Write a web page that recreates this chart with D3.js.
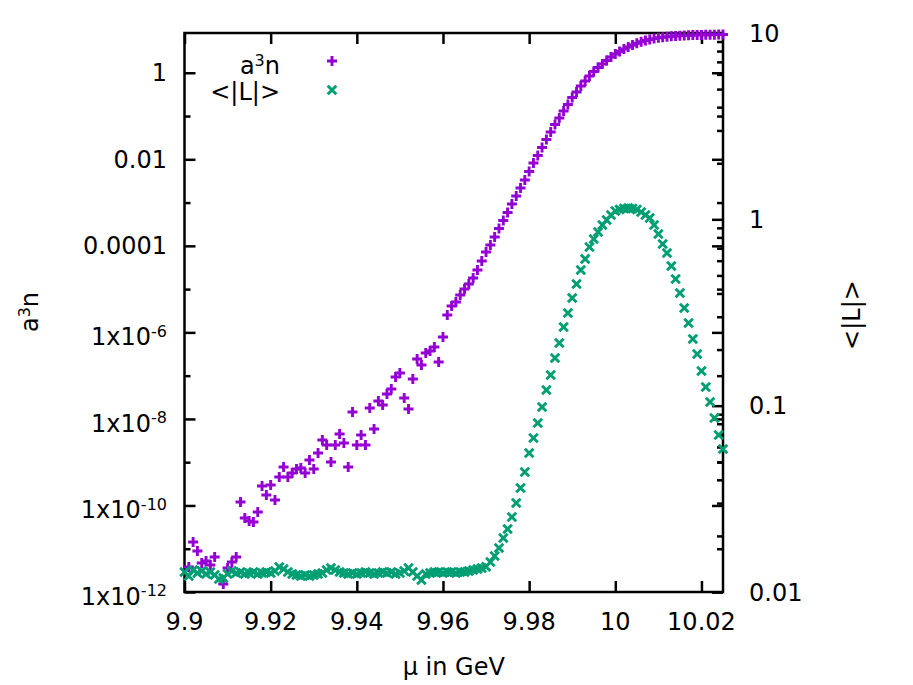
<!DOCTYPE html>
<html>
<head>
<meta charset="utf-8">
<script src="https://cdn.jsdelivr.net/npm/d3@7"></script>
<style>
body { margin: 0; background: #fff; }
svg text { font-family: "DejaVu Sans", sans-serif; font-size: 24px; fill: #000; }
</style>
</head>
<body>
<div id="chart"></div>
<script>
const width = 913;
const height = 685;

// chemical potential mu in GeV
const mu = [
  9.900, 9.901, 9.902, 9.903, 9.904, 9.905, 9.906, 9.907, 9.908, 9.909,
  9.910, 9.911, 9.912, 9.913, 9.914, 9.915, 9.916, 9.917, 9.918, 9.919,
  9.920, 9.921, 9.922, 9.923, 9.924, 9.925, 9.926, 9.927, 9.928, 9.929,
  9.930, 9.931, 9.932, 9.933, 9.934, 9.935, 9.936, 9.937, 9.938, 9.939,
  9.940, 9.941, 9.942, 9.943, 9.944, 9.945, 9.946, 9.947, 9.948, 9.949,
  9.950, 9.951, 9.952, 9.953, 9.954, 9.955, 9.956, 9.957, 9.958, 9.959,
  9.960, 9.961, 9.962, 9.963, 9.964, 9.965, 9.966, 9.967, 9.968, 9.969,
  9.970, 9.971, 9.972, 9.973, 9.974, 9.975, 9.976, 9.977, 9.978, 9.979,
  9.980, 9.981, 9.982, 9.983, 9.984, 9.985, 9.986, 9.987, 9.988, 9.989,
  9.990, 9.991, 9.992, 9.993, 9.994, 9.995, 9.996, 9.997, 9.998, 9.999,
  10.000, 10.001, 10.002, 10.003, 10.004, 10.005, 10.006, 10.007, 10.008, 10.009,
  10.010, 10.011, 10.012, 10.013, 10.014, 10.015, 10.016, 10.017, 10.018, 10.019,
  10.020, 10.021, 10.022, 10.023, 10.024, 10.025
];

// a^3 n (left axis), null = not shown on log scale
const a3n = [
  null, 3.78e-12, 1.43e-11, 8.86e-12, 4.68e-12, 5.20e-12, 4.21e-12, 6.44e-12, null, 1.53e-12,
  3.59e-12, 4.93e-12, 6.44e-12, 1.20e-10, 5.13e-11, 4.37e-11, 4.15e-11, 7.06e-11, 2.82e-10, 1.74e-10,
  2.97e-10, 1.34e-10, 4.55e-10, 7.74e-10, 4.55e-10, 5.63e-10, 6.96e-10, 7.34e-10, 5.63e-10, 1.12e-9,
  6.96e-10, 1.63e-9, 3.26e-9, 2.50e-9, 1.01e-9, 2.50e-9, 4.48e-9, 2.78e-9, 7.74e-10, 1.44e-8,
  2.50e-9, 4.25e-9, 2.50e-9, 1.79e-8, 5.85e-9, 2.60e-8, 2.10e-8, 3.77e-8, 4.91e-8, 9.31e-8,
  1.15e-7, 3.04e-8, 1.70e-8, 8.37e-8, 2.43e-7, 1.76e-7, 3.34e-7, 3.71e-7, 4.59e-7, 2.07e-7,
  7.82e-7, 2.52e-6, 4.07e-6, 5.04e-6, 7.31e-6, 1.01e-5, 1.31e-5, 1.81e-5, 2.77e-5, 4.46e-5,
  7.20e-5, 1.05e-4, 1.60e-4, 2.52e-4, 3.85e-4, 5.89e-4, 9.27e-4, 1.42e-3, 2.17e-3, 3.32e-3,
  5.22e-3, 8.21e-3, 1.22e-2, 1.87e-2, 2.87e-2, 4.28e-2, 6.37e-2, 9.01e-2, 0.1307, 0.1847,
  0.2680, 0.3592, 0.4943, 0.6451, 0.8415, 1.069, 1.323, 1.594, 1.920, 2.313,
  2.714, 3.099, 3.541, 3.938, 4.381, 4.797, 5.194, 5.567, 5.871, 6.159,
  6.427, 6.635, 6.814, 6.960, 7.072, 7.187, 7.26, 7.34, 7.42, 7.46,
  7.50, 7.54, 7.57, 7.61, 7.65, 7.65
];

// <|L|> (right axis)
const absL = [
  0.01280, 0.01219, 0.01312, 0.01265, 0.01296, 0.01249, 0.01280, 0.01234, 0.01174, 0.01189,
  0.01249, 0.01296, 0.01265, 0.01280, 0.01249, 0.01265, 0.01280, 0.01249, 0.01265, 0.01280,
  0.01265, 0.01296, 0.01362, 0.01329, 0.01280, 0.01249, 0.01234, 0.01219, 0.01234, 0.01219,
  0.01234, 0.01249, 0.01265, 0.01312, 0.01345, 0.01312, 0.01280, 0.01265, 0.01249, 0.01265,
  0.01249, 0.01265, 0.01280, 0.01265, 0.01249, 0.01265, 0.01280, 0.01265, 0.01280, 0.01249,
  0.01265, 0.01296, 0.01345, 0.01280, 0.01219, 0.01160, 0.01249, 0.01265, 0.01280, 0.01280,
  0.01265, 0.01280, 0.01280, 0.01265, 0.01280, 0.01280, 0.01296, 0.01312, 0.01329, 0.01345,
  0.01367, 0.01449, 0.01560, 0.01722, 0.01949, 0.02178, 0.02526, 0.03004, 0.03615, 0.04406,
  0.05572, 0.06707, 0.08072, 0.09837, 0.1214, 0.1461, 0.1803, 0.2170, 0.2644, 0.3143,
  0.3784, 0.4498, 0.5349, 0.6129, 0.7107, 0.7845, 0.8554, 0.9326, 0.9919, 1.055,
  1.109, 1.129, 1.143, 1.151, 1.143, 1.129, 1.095, 1.055, 1.017, 0.9326,
  0.8344, 0.7375, 0.6597, 0.5619, 0.4784, 0.4024, 0.3344, 0.2778, 0.2280, 0.1894,
  0.1535, 0.1260, 0.1046, 0.08585, 0.06961, 0.05855
];

const xTicks = [9.90, 9.92, 9.94, 9.96, 9.98, 10.00, 10.02];
const xTickLabels = ["9.9", "9.92", "9.94", "9.96", "9.98", "10", "10.02"];
const yTicks = [1, 1e-2, 1e-4, 1e-6, 1e-8, 1e-10, 1e-12];
const yTickLabels = [["1", ""], ["0.01", ""], ["0.0001", ""], ["1x10", "-6"], ["1x10", "-8"], ["1x10", "-10"], ["1x10", "-12"]];
const yMinorTicks = [1e-1, 1e-3, 1e-5, 1e-7, 1e-9, 1e-11];
const y2Ticks = [10, 1, 0.1, 0.01];
const y2TickLabels = ["10", "1", "0.1", "0.01"];

const purple = "#9400d3";
const green = "#009e73";

const plotL = 184.5, plotR = 723, plotT = 33, plotB = 592;

const svg = d3.select("#chart")
    .append("svg")
    .attr("width", width)
    .attr("height", height);

const x = d3.scaleLinear().domain([9.9, 10.025]).range([plotL, plotR]);
const y = d3.scaleLog().domain([1e-12, 8.3]).range([plotB, plotT]);
const y2 = d3.scaleLog().domain([0.01, 10]).range([plotB, plotT]);

// tick marks only, labels are drawn by hand below
function tickAxis(axis, tx, ty, len) {
    svg.append("g")
        .attr("transform", `translate(${tx},${ty})`)
        .call(axis.tickSize(len).tickFormat(""))
        .call(g => g.select(".domain").remove())
        .call(g => g.selectAll("text").remove())
        .call(g => g.selectAll("line").attr("stroke", "#000").attr("stroke-width", 2.5));
}

tickAxis(d3.axisBottom(x).tickValues(xTicks), 0, plotB, -11);
tickAxis(d3.axisTop(x).tickValues(xTicks), 0, plotT, -11);
tickAxis(d3.axisLeft(y).tickValues(yTicks), plotL, 0, -11);
tickAxis(d3.axisLeft(y).tickValues(yMinorTicks), plotL, 0, -6);
tickAxis(d3.axisRight(y).tickValues(yTicks), plotR, 0, -11);
tickAxis(d3.axisRight(y).tickValues(yMinorTicks), plotR, 0, -6);
tickAxis(d3.axisRight(y2).tickValues(y2Ticks), plotR, 0, -11);
tickAxis(d3.axisRight(y2).tickValues(y2.ticks().filter(t => !y2Ticks.some(m => Math.abs(m - t) < 1e-9))), plotR, 0, -6);

// frame
svg.append("rect")
    .attr("x", plotL).attr("y", plotT)
    .attr("width", plotR - plotL).attr("height", plotB - plotT)
    .attr("fill", "none").attr("stroke", "#000").attr("stroke-width", 2.5);

// x tick labels
svg.selectAll(".xlab").data(xTicks).enter().append("text")
    .attr("x", d => x(d)).attr("y", 630)
    .attr("text-anchor", "middle")
    .text((d, i) => xTickLabels[i]);

// left tick labels with superscripts
yTicks.forEach((v, i) => {
    const lab = yTickLabels[i];
    const t = svg.append("text")
        .attr("x", 167)
        .attr("y", y(v) + (lab[1] ? 12.7 : 8.5))
        .attr("text-anchor", "end");
    t.append("tspan").text(lab[0]);
    if (lab[1]) t.append("tspan").attr("dy", -8.3).style("font-size", "16px").text(lab[1]);
});

// right tick labels
svg.selectAll(".y2lab").data(y2Ticks).enter().append("text")
    .attr("x", 749).attr("y", d => y2(d) + 8.5)
    .text((d, i) => y2TickLabels[i]);

// axis titles
svg.append("text")
    .attr("x", (plotL + plotR) / 2).attr("y", 675)
    .attr("text-anchor", "middle")
    .text("μ in GeV");

const ylab = svg.append("text")
    .attr("transform", "translate(38,312) rotate(-90)")
    .attr("text-anchor", "middle");
ylab.append("tspan").text("a");
ylab.append("tspan").attr("dy", -8.3).style("font-size", "16px").text("3");
ylab.append("tspan").attr("dy", 8.3).text("n");

svg.append("text")
    .attr("transform", "translate(860,315) rotate(-90)")
    .attr("text-anchor", "middle")
    .text("<|L|>");

// point markers
const plusPath = "M-5,0H5M0,-5V5";
const crossPath = "M-4.3,-4.3L4.3,4.3M-4.3,4.3L4.3,-4.3";
const markW = 2.9;

const ptsA = mu.map((m, i) => ({ m, v: a3n[i] })).filter(d => d.v != null);
const ptsL = mu.map((m, i) => ({ m, v: absL[i] }));

svg.append("g").selectAll("path").data(ptsA).enter().append("path")
    .attr("d", plusPath)
    .attr("transform", d => `translate(${x(d.m)},${y(d.v)})`)
    .attr("stroke", purple).attr("stroke-width", markW).attr("fill", "none");

svg.append("g").selectAll("path").data(ptsL).enter().append("path")
    .attr("d", crossPath)
    .attr("transform", d => `translate(${x(d.m)},${y2(d.v)})`)
    .attr("stroke", green).attr("stroke-width", markW).attr("fill", "none");

// legend
const k1 = svg.append("text").attr("x", 280).attr("y", 74).attr("text-anchor", "end");
k1.append("tspan").text("a");
k1.append("tspan").attr("dy", -8.3).style("font-size", "16px").text("3");
k1.append("tspan").attr("dy", 8.3).text("n");
svg.append("path").attr("d", plusPath).attr("transform", "translate(332,61)")
    .attr("stroke", purple).attr("stroke-width", markW).attr("fill", "none");

svg.append("text").attr("x", 280).attr("y", 100).attr("text-anchor", "end").text("<|L|>");
svg.append("path").attr("d", crossPath).attr("transform", "translate(332,90)")
    .attr("stroke", green).attr("stroke-width", markW).attr("fill", "none");
</script>
</body>
</html>
